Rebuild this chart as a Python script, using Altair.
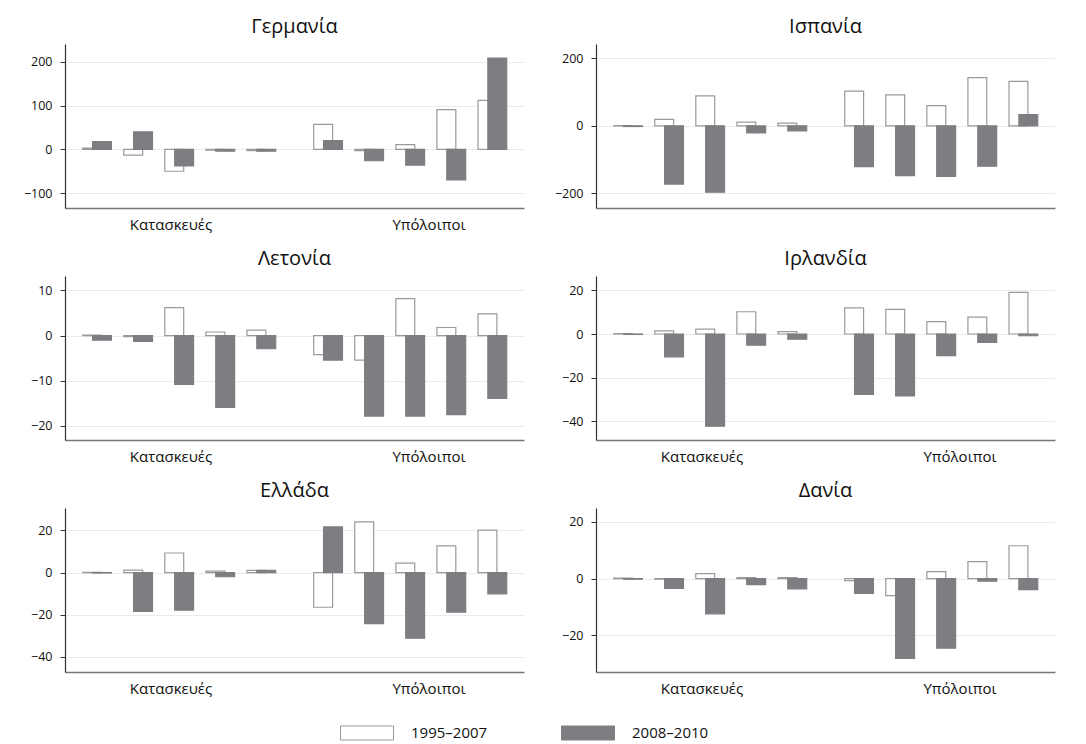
import altair as alt
import pandas as pd

FONT = "Open Sans"

countries = ["Γερμανία", "Ισπανία", "Λετονία", "Ιρλανδία", "Ελλάδα", "Δανία"]
periods = ["1995–2007", "2008–2010"]
sector_labels = ["Κατασκευές", "Υπόλοιποι"]

# 10 industries per country: first five = construction group, last five = others
germany_p1 = [3, -13, -50, -2, -3, 57, -3, 11, 91, 112]
germany_p2 = [18, 40, -38, -4, -4, 20, -26, -36, -70, 209]

spain_p1 = [1, 19, 89, 11, 8, 103, 92, 60, 143, 132]
spain_p2 = [-2, -173, -197, -21, -15, -121, -148, -150, -120, 33]

latvia_p1 = [0.1, -0.2, 6.2, 0.8, 1.2, -4.2, -5.4, 8.2, 1.8, 4.8]
latvia_p2 = [-1.0, -1.3, -10.8, -15.9, -2.9, -5.4, -17.8, -17.8, -17.5, -13.9]

ireland_p1 = [0.2, 1.4, 2.2, 10.2, 1.1, 12.0, 11.3, 5.7, 7.7, 19.1]
ireland_p2 = [-0.2, -10.5, -42.3, -5.1, -2.4, -27.7, -28.4, -9.9, -3.8, -0.8]

greece_p1 = [0.1, 1.2, 9.3, 0.7, 1.0, -16.5, 24.1, 4.5, 12.7, 20.2]
greece_p2 = [-0.2, -18.5, -17.9, -2.0, 1.1, 21.7, -24.3, -31.2, -18.8, -10.1]

denmark_p1 = [0.2, -0.2, 1.8, 0.4, 0.4, -0.7, -6.0, 2.5, 6.0, 11.6]
denmark_p2 = [-0.2, -3.4, -12.4, -2.1, -3.6, -5.2, -28.1, -24.5, -0.9, -3.9]

y_ticks = {
    "Γερμανία": [-100, 0, 100, 200],
    "Ισπανία": [-200, 0, 200],
    "Λετονία": [-20, -10, 0, 10],
    "Ιρλανδία": [-40, -20, 0, 20],
    "Ελλάδα": [-40, -20, 0, 20],
    "Δανία": [-20, 0, 20],
}
y_domains = {
    "Γερμανία": [-134, 241],
    "Ισπανία": [-244, 243],
    "Λετονία": [-23.1, 13.2],
    "Ιρλανδία": [-48.6, 26.6],
    "Ελλάδα": [-47.3, 30.7],
    "Δανία": [-32.9, 24.9],
}

series = {
    "Γερμανία": (germany_p1, germany_p2),
    "Ισπανία": (spain_p1, spain_p2),
    "Λετονία": (latvia_p1, latvia_p2),
    "Ιρλανδία": (ireland_p1, ireland_p2),
    "Ελλάδα": (greece_p1, greece_p2),
    "Δανία": (denmark_p1, denmark_p2),
}

rows = []
for c in countries:
    p1, p2 = series[c]
    for k, (vals, per) in enumerate(zip((p1, p2), periods)):
        for i, v in enumerate(vals):
            rows.append({"country": c, "idx": i, "period": per, "pord": k, "value": v})
df = pd.DataFrame(rows)

GAP = 0.625   # extra space between the two industry groups (in slot units)
BARW = 0.46

fill_scale = alt.Scale(domain=periods, range=["#ffffff", "#7e7e82"])
stroke_scale = alt.Scale(domain=periods, range=["#9a9a9a", "#7e7e82"])

legend = alt.Legend(
    title=None, orient="none", direction="horizontal",
    legendX=275, legendY=662,
    symbolType="M-1,-0.264H1V0.264H-1Z", symbolSize=2809,
    symbolStrokeColor="#9a9a9a", symbolStrokeWidth=1,
    labelFont=FONT, labelFontSize=15, labelColor="#111",
    labelOffset=17, columnPadding=71,
)


def panel(c, show_x_labels=True):
    base = alt.Chart(df).transform_filter(
        alt.datum.country == c
    ).transform_calculate(
        pos=f"datum.idx + (datum.idx >= 5 ? {GAP} : 0)",
        xs=f"datum.pos + (datum.pord == 0 ? -0.35 : -0.11)",
        xe=f"datum.xs + {BARW}",
    )
    x_axis = alt.Axis(
        title=None, values=[1.79, 8.07],
        labelExpr="datum.value < 5 ? 'Κατασκευές' : 'Υπόλοιποι'",
        ticks=False, grid=False, domainColor="#777", domainWidth=1.5,
        labelFont=FONT, labelFontSize=15, labelColor="#111", labelPadding=9,
        labelOpacity=1 if show_x_labels else 0,
    )
    y_axis = alt.Axis(
        title=None, values=y_ticks[c], grid=True, gridColor="#ebebeb",
        tickColor="#333", tickSize=5, domainColor="#333",
        labelFont=FONT, labelFontSize=12.5, labelColor="#111", labelPadding=8,
        format="d",
    )
    return base.mark_bar(strokeWidth=1.2).encode(
        x=alt.X("xs:Q", scale=alt.Scale(domain=[-0.78, 10.395], nice=False, zero=False), axis=x_axis),
        x2="xe:Q",
        y=alt.Y("value:Q", scale=alt.Scale(domain=y_domains[c], nice=False, zero=False), axis=y_axis),
        y2=alt.datum(0),
        fill=alt.Fill("period:N", scale=fill_scale, legend=legend),
        stroke=alt.Stroke("period:N", scale=stroke_scale, legend=None),
        order=alt.Order("pord:Q"),
    ).properties(
        width=459, height=164,
        title=alt.TitleParams(c, font=FONT, fontSize=20, fontWeight="normal", color="#111", offset=7),
    )


charts = [panel(c, show_x_labels=(c != "Ισπανία")) for c in countries]

chart = alt.concat(*charts, columns=2, spacing={"row": 17, "column": 30}).properties(
    padding={"left": 15, "top": 9, "right": 5, "bottom": 5}
).configure_view(stroke=None).configure_axis(
    domainWidth=1.2
)

chart.save("out.html", embed_options={"renderer": "svg", "actions": False})
